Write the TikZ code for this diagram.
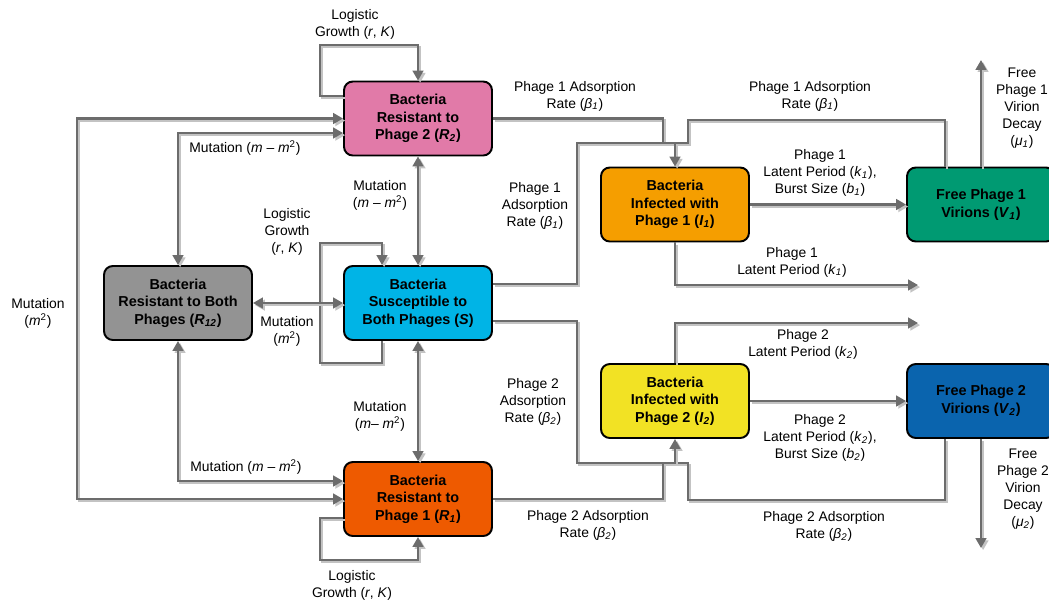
\documentclass[tikz,border=0pt]{standalone}
\usepackage{fontspec}
\setmainfont{Liberation Sans}
\usetikzlibrary{arrows.meta}

\definecolor{linegray}{RGB}{108,108,108}
\definecolor{shadowgray}{RGB}{195,195,195}
\definecolor{rtwo}{RGB}{225,122,168}
\definecolor{sus}{RGB}{0,180,230}
\definecolor{rone}{RGB}{238,90,0}
\definecolor{rboth}{RGB}{147,147,147}
\definecolor{inone}{RGB}{245,158,0}
\definecolor{intwo}{RGB}{242,226,36}
\definecolor{vone}{RGB}{0,154,114}
\definecolor{vtwo}{RGB}{10,100,174}

\newcommand{\idx}[1]{\textsubscript{\textit{#1}}}
\newcommand{\msq}{\textit{m}\textsuperscript{2}}

\tikzset{
  box/.style={draw=black, line width=1.1pt, rounded corners=5pt,
    minimum width=2.96cm, minimum height=1.48cm, inner sep=0pt, align=center,
    font=\fontsize{8.2pt}{10pt}\selectfont\bfseries},
  lbl/.style={align=center, inner sep=0pt, font=\fontsize{7.9pt}{9.7pt}\selectfont},
  flow/.style={draw=linegray, line width=1.35pt,
    preaction={draw=shadowgray, line width=1.35pt,
      transform canvas={xshift=1.2pt,yshift=-1.2pt}}}
}

\begin{document}
\begin{tikzpicture}[x=0.02cm, y=-0.02cm, >={Triangle[width=6pt,length=5.6pt]}]
\useasboundingbox (0,0) rectangle (1049,600);

% compartments
\node (R2) at (418,118.5) [box, fill=rtwo] {Bacteria\\Resistant to\\Phage 2 (\textit{R}\idx{2})};
\node (S) at (418,303) [box, fill=sus] {Bacteria\\Susceptible to\\Both Phages (\textit{S})};
\node (R1) at (418,499) [box, fill=rone] {Bacteria\\Resistant to\\Phage 1 (\textit{R}\idx{1})};
\node (R12) at (178,303) [box, fill=rboth] {Bacteria\\Resistant to Both\\Phages (\textit{R}\idx{12})};
\node (I1) at (675,204.5) [box, fill=inone] {Bacteria\\Infected with\\Phage 1 (\textit{I}\idx{1})};
\node (I2) at (675,401) [box, fill=intwo] {Bacteria\\Infected with\\Phage 2 (\textit{I}\idx{2})};
\node (V1) at (981,204.5) [box, fill=vone] {Free Phage 1\\Virions (\textit{V}\idx{1})};
\node (V2) at (981,401) [box, fill=vtwo] {Free Phage 2\\Virions (\textit{V}\idx{2})};

\coordinate (j1) at (675,143);
\coordinate (j2) at (675,463);
\coordinate (e1) at (918,285);
\coordinate (e2) at (918,323);
\coordinate (d1) at (981,60);
\coordinate (d2) at (981,548);

% growth and mutation
\draw [flow,->] (R2.west |- 0,96) -| (320,45) -| (R2.north);
\draw [flow,->] (S.south -| 382,0) -- (382,363) -| (320,243) -| (S.north -| 382,0);
\draw [flow,->] (R1.west |- 0,518) -| (320,560) -| (R1.south);
\draw [flow,<->] (R2.west) -| (77,300) |- (R1.west);
\draw [flow,<->] (R2.west |- 0,133) -| (R12.north);
\draw [flow,<->] (R1.west |- 0,481) -| (R12.south);
\draw [flow,<->] (R12.east) -- (S.west);
\draw [flow,<->] (R2.south) -- (S.north);
\draw [flow,<->] (S.south) -- (R1.north);

% adsorption
\draw [flow] (R2.east) -| (663,143) -- (j1);
\draw [flow] (S.east |- 0,284) -| (577,143) -- (j1);
\draw [flow] (V1.north -| 945,0) |- (688,120) -- (688,143) -- (j1);
\draw [flow,->] (j1) -- (I1.north);
\draw [flow] (S.east |- 0,321) -| (577,463) -- (j2);
\draw [flow] (R1.east) -| (663,463) -- (j2);
\draw [flow] (V2.south -| 945,0) |- (688,500) -- (688,463) -- (j2);
\draw [flow,->] (j2) -- (I2.south);

% lysis and decay
\draw [flow,->] (I1.east) -- (V1.west);
\draw [flow,->] (I1.south) |- (e1);
\draw [flow,->] (I2.east) -- (V2.west);
\draw [flow,->] (I2.north) |- (e2);
\draw [flow,->] (V1.north) -- (d1);
\draw [flow,->] (V2.south) -- (d2);

% labels
\node (lgR2) at (355,24.5) [lbl] {Logistic\\Growth (\textit{r}, \textit{K})};
\node (lgS) at (287,232) [lbl] {Logistic\\Growth\\(\textit{r}, \textit{K})};
\node (lgR1) at (352,585) [lbl] {Logistic\\Growth (\textit{r}, \textit{K})};
\node (lmL) at (38,313) [lbl] {Mutation\\(\msq)};
\node (lmA) at (245,148) [lbl] {Mutation (\textit{m} – \msq)};
\node (lmB) at (380,195) [lbl] {Mutation\\(\textit{m} – \msq)};
\node (lmC) at (287,331) [lbl] {Mutation\\(\msq)};
\node (lmD) at (380,416) [lbl] {Mutation\\(\textit{m}– \msq)};
\node (lmE) at (246,467) [lbl] {Mutation (\textit{m} – \msq)};
\node (la1) at (575,96) [lbl] {Phage 1 Adsorption\\Rate (\textit{β}\idx{1})};
\node (la2) at (810,96) [lbl] {Phage 1 Adsorption\\Rate (\textit{β}\idx{1})};
\node (la3) at (535,206) [lbl] {Phage 1\\Adsorption\\Rate (\textit{β}\idx{1})};
\node (lk1) at (820,173) [lbl] {Phage 1\\Latent Period (\textit{k}\idx{1}),\\Burst Size (\textit{b}\idx{1})};
\node (ll1) at (792,262) [lbl] {Phage 1\\Latent Period (\textit{k}\idx{1})};
\node (ld1) at (1022,108) [lbl] {Free\\Phage 1\\Virion\\Decay\\(\textit{μ}\idx{1})};
\node (ll2) at (803,344) [lbl] {Phage 2\\Latent Period (\textit{k}\idx{2})};
\node (lk2) at (820,438) [lbl] {Phage 2\\Latent Period (\textit{k}\idx{2}),\\Burst Size (\textit{b}\idx{2})};
\node (la4) at (533,402) [lbl] {Phage 2\\Adsorption\\Rate (\textit{β}\idx{2})};
\node (la5) at (588,525) [lbl] {Phage 2 Adsorption\\Rate (\textit{β}\idx{2})};
\node (la6) at (824,526) [lbl] {Phage 2 Adsorption\\Rate (\textit{β}\idx{2})};
\node (ld2) at (1023,489) [lbl] {Free\\Phage 2\\Virion\\Decay\\(\textit{μ}\idx{2})};
\end{tikzpicture}
\end{document}
